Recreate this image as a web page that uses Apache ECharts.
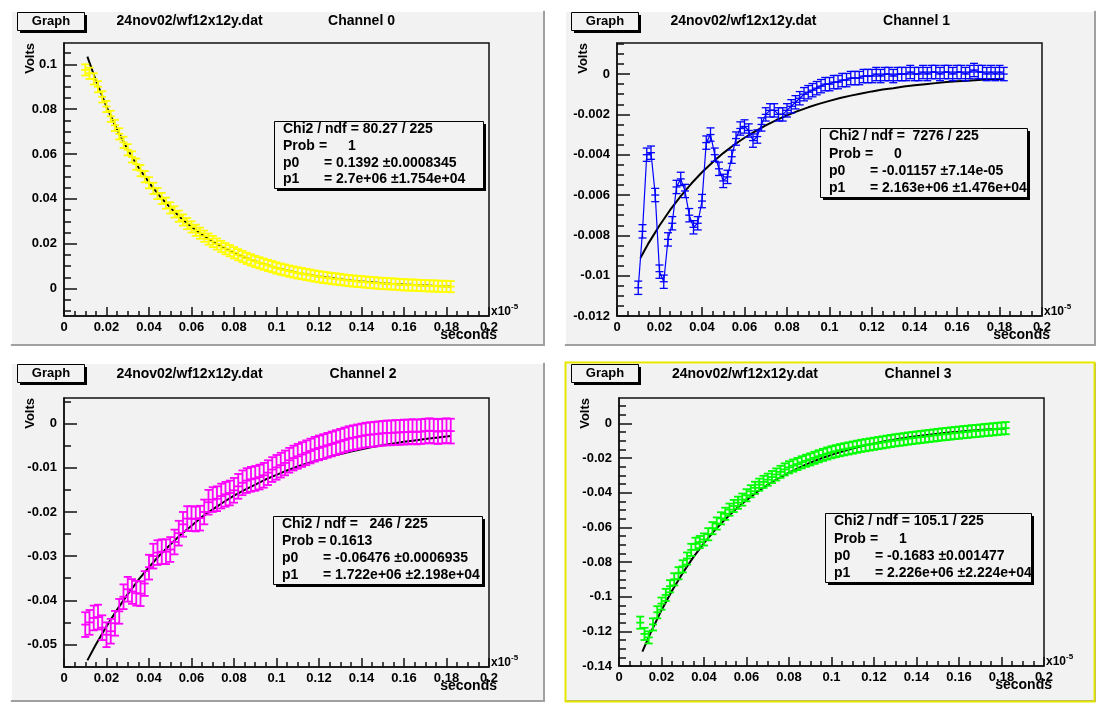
<!DOCTYPE html>
<html>
<head>
<meta charset="utf-8">
<title>24nov02/wf12x12y.dat</title>
<script src="https://cdn.jsdelivr.net/npm/echarts@6/dist/echarts.min.js"></script>
<style>
html, body { margin: 0; padding: 0; background: #fff; }
#main { width: 1096px; height: 705px; }
</style>
</head>
<body>
<div id="main"></div>
<script>
// sample positions, seconds x 1e-5
var xs = [0.010,0.012,0.014,0.016,0.018,0.020,0.022,0.024,0.026,0.028,0.030,0.032,0.034,0.036,0.038,0.040,0.042,0.044,0.046,0.048,
  0.050,0.052,0.054,0.056,0.058,0.060,0.062,0.064,0.066,0.068,0.070,0.072,0.074,0.076,0.078,0.080,0.082,0.084,0.086,0.088,
  0.090,0.092,0.094,0.096,0.098,0.100,0.102,0.104,0.106,0.108,0.110,0.112,0.114,0.116,0.118,0.120,0.122,0.124,0.126,0.128,
  0.130,0.132,0.134,0.136,0.138,0.140,0.142,0.144,0.146,0.148,0.150,0.152,0.154,0.156,0.158,0.160,0.162,0.164,0.166,0.168,
  0.170,0.172,0.174,0.176,0.178,0.180,0.182];

// measured volts, one array per channel
var ch0 = [0.0975,0.0960,0.0935,0.0900,0.0855,0.0812,0.0768,0.0728,0.0690,0.0652,0.0619,0.0587,0.0555,0.0526,0.0499,0.0472,0.0447,0.0424,0.0402,0.0381,
  0.0360,0.0342,0.0323,0.0306,0.0290,0.0275,0.0260,0.0247,0.0234,0.0221,0.0210,0.0199,0.0188,0.0178,0.0169,0.0160,0.0151,0.0143,0.0135,0.0128,
  0.0121,0.0115,0.0109,0.0103,0.0098,0.0092,0.0087,0.0083,0.0078,0.0074,0.0070,0.0067,0.0063,0.0060,0.0056,0.0053,0.0050,0.0048,0.0045,0.0043,
  0.0041,0.0038,0.0036,0.0034,0.0032,0.0031,0.0029,0.0027,0.0026,0.0024,0.0023,0.0022,0.0021,0.0020,0.0018,0.0017,0.0016,0.0016,0.0015,0.0014,
  0.0013,0.0012,0.0012,0.0011,0.0010,0.0010,0.0009];
var ch1 = [-0.0106,-0.0078,-0.0040,-0.0039,-0.0060,-0.0098,-0.0103,-0.0082,-0.0074,-0.0056,-0.0052,-0.0058,-0.0070,-0.0076,-0.0074,-0.0063,-0.0034,-0.0030,-0.0040,-0.0047,
  -0.0053,-0.0051,-0.0041,-0.0032,-0.0027,-0.0026,-0.0028,-0.0033,-0.0031,-0.0025,-0.0020,-0.0018,-0.0018,-0.0020,-0.0020,-0.0018,-0.0016,-0.0014,-0.0012,-0.0010,
  -0.0009,-0.0008,-0.0007,-0.0006,-0.0005,-0.0005,-0.0004,-0.0004,-0.0003,-0.0003,-0.0002,-0.0002,-0.0002,-0.0001,-0.0001,-0.0001,0.0000,-0.0001,0.0000,0.0000,
  -0.0001,0.0000,0.0000,0.0000,0.0001,0.0000,0.0000,0.0001,0.0000,0.0001,0.0001,0.0000,0.0001,0.0001,0.0000,0.0001,0.0001,0.0000,0.0001,0.0002,
  0.0001,0.0001,0.0000,0.0001,0.0000,0.0001,0.0000];
var ch2 = [-0.0455,-0.0450,-0.0440,-0.0438,-0.0462,-0.0478,-0.0470,-0.0452,-0.0425,-0.0392,-0.0375,-0.0380,-0.0384,-0.0385,-0.0362,-0.0325,-0.0300,-0.0292,-0.0290,-0.0290,
  -0.0285,-0.0268,-0.0248,-0.0228,-0.0215,-0.0215,-0.0216,-0.0214,-0.0200,-0.0178,-0.0172,-0.0170,-0.0164,-0.0160,-0.0157,-0.0151,-0.0142,-0.0134,-0.0129,-0.0126,
  -0.0124,-0.0121,-0.0117,-0.0111,-0.0104,-0.0099,-0.0094,-0.0089,-0.0083,-0.0078,-0.0074,-0.0070,-0.0066,-0.0062,-0.0058,-0.0055,-0.0052,-0.0049,-0.0046,-0.0043,
  -0.0040,-0.0037,-0.0034,-0.0032,-0.0030,-0.0028,-0.0026,-0.0025,-0.0024,-0.0023,-0.0022,-0.0021,-0.0021,-0.0020,-0.0020,-0.0019,-0.0019,-0.0018,-0.0019,-0.0018,
  -0.0017,-0.0016,-0.0017,-0.0018,-0.0017,-0.0016,-0.0017];
var ch3 = [-0.1150,-0.1215,-0.1235,-0.1160,-0.1090,-0.1040,-0.0990,-0.0940,-0.0900,-0.0865,-0.0825,-0.0780,-0.0730,-0.0695,-0.0685,-0.0670,-0.0640,-0.0605,-0.0578,-0.0548,
  -0.0522,-0.0498,-0.0477,-0.0458,-0.0440,-0.0415,-0.0392,-0.0372,-0.0354,-0.0338,-0.0325,-0.0310,-0.0295,-0.0280,-0.0266,-0.0254,-0.0244,-0.0235,-0.0225,-0.0216,
  -0.0208,-0.0199,-0.0190,-0.0182,-0.0174,-0.0167,-0.0161,-0.0155,-0.0150,-0.0145,-0.0140,-0.0135,-0.0130,-0.0126,-0.0122,-0.0118,-0.0114,-0.0110,-0.0106,-0.0102,
  -0.0098,-0.0095,-0.0092,-0.0088,-0.0085,-0.0082,-0.0079,-0.0076,-0.0073,-0.0070,-0.0067,-0.0064,-0.0062,-0.0059,-0.0056,-0.0054,-0.0051,-0.0049,-0.0046,-0.0044,
  -0.0042,-0.0039,-0.0037,-0.0035,-0.0032,-0.0030,-0.0028];

// fitted curves
var fitX = [0.011,0.015,0.020,0.025,0.030,0.035,0.040,0.045,0.050,0.055,0.060,0.065,0.070,0.075,0.080,0.085,0.090,0.095,0.100,0.105,
  0.110,0.115,0.120,0.125,0.130,0.135,0.140,0.145,0.150,0.155,0.160,0.165,0.170,0.175,0.180,0.182];
var fit0 = [0.1034,0.0928,0.0811,0.0709,0.0619,0.0541,0.0473,0.0413,0.0361,0.0315,0.0275,0.0241,0.0210,0.0184,0.0160,0.0140,0.0122,0.0107,0.0093,0.0082,
  0.0071,0.0062,0.0054,0.0048,0.0042,0.0036,0.0032,0.0028,0.0024,0.0021,0.0018,0.0016,0.0014,0.0012,0.0011,0.0010];
var fit1 = [-0.00912,-0.00836,-0.00751,-0.00674,-0.00605,-0.00543,-0.00487,-0.00437,-0.00392,-0.00352,-0.00316,-0.00284,-0.00255,-0.00228,-0.00205,-0.00184,-0.00165,-0.00148,-0.00133,-0.00119,
  -0.00107,-0.00096,-0.00086,-0.00077,-0.00070,-0.00062,-0.00056,-0.00050,-0.00045,-0.00040,-0.00036,-0.00033,-0.00029,-0.00026,-0.00024,-0.00023];
var fit2 = [-0.0536,-0.0500,-0.0459,-0.0421,-0.0386,-0.0354,-0.0325,-0.0298,-0.0274,-0.0251,-0.0231,-0.0211,-0.0194,-0.0178,-0.0163,-0.0150,-0.0138,-0.0126,-0.0116,-0.0106,
  -0.0097,-0.0089,-0.0082,-0.0075,-0.0069,-0.0063,-0.0058,-0.0053,-0.0049,-0.0045,-0.0041,-0.0038,-0.0035,-0.0032,-0.0029,-0.0028];
var fit3 = [-0.1317,-0.1205,-0.1078,-0.0965,-0.0863,-0.0772,-0.0691,-0.0618,-0.0553,-0.0495,-0.0443,-0.0396,-0.0354,-0.0317,-0.0284,-0.0254,-0.0227,-0.0203,-0.0182,-0.0163,
  -0.0145,-0.0130,-0.0116,-0.0104,-0.0093,-0.0083,-0.0075,-0.0067,-0.0060,-0.0053,-0.0048,-0.0043,-0.0038,-0.0034,-0.0031,-0.0029];

// tick labels
var xMajor = [0,0.02,0.04,0.06,0.08,0.1,0.12,0.14,0.16,0.18,0.2];
var yMajor0 = [0,0.02,0.04,0.06,0.08,0.1];
var yMajor1 = [-0.012,-0.01,-0.008,-0.006,-0.004,-0.002,0];
var yMajor2 = [-0.05,-0.04,-0.03,-0.02,-0.01,0];
var yMajor3 = [-0.14,-0.12,-0.1,-0.08,-0.06,-0.04,-0.02,0];

var FONT = '"Liberation Sans", Arial, Helvetica, sans-serif';
var PAD_BG = '#f2f2f2';

function steps(a, b, d) {
    var r = [];
    for (var v = a; v <= b + d / 2; v += d) r.push(+v.toFixed(6));
    return r;
}
function fmt(v) { return String(+v.toFixed(5)); }

var pads = [
    { rect: [10, 10, 535, 336], color: '#ffff00', data: ch0, fit: fit0, ey: 0.0025,
      ymin: -0.0122, ymax: 0.1095, yMajor: yMajor0, yMinor: steps(-0.01, 0.105, 0.005),
      grid: { left: 64, top: 43, width: 425, height: 273 }, gbox: [17, 12], t1: 189.6, t2: 361.5, ty: 21,
      channel: 'Channel 0', stats: { L: 274, T: 121, W: 209, H: 67, chi: 'Chi2 / ndf = 80.27 / 225', prob: '1',
      p0: '= 0.1392 \u00b10.0008345', p1: '= 2.7e+06 \u00b11.754e+04' } },
    { rect: [564, 10, 532, 336], color: '#0000ff', data: ch1, fit: fit1, ey: 0.00033, joined: true,
      ymin: -0.012, ymax: 0.00154, yMajor: yMajor1, yMinor: steps(-0.012, 0.0015, 0.0005),
      grid: { left: 617, top: 43, width: 425, height: 273 }, gbox: [571, 12], t1: 743.5, t2: 916.5, ty: 21,
      channel: 'Channel 1', stats: { L: 820, T: 128, W: 207, H: 69, chi: 'Chi2 / ndf =  7276 / 225', prob: '0',
      p0: '= -0.01157 \u00b17.14e-05', p1: '= 2.163e+06 \u00b11.476e+04' } },
    { rect: [10, 362, 535, 340], color: '#ff00ff', data: ch2, fit: fit2, ey: 0.0028,
      ymin: -0.0551, ymax: 0.0058, yMajor: yMajor2, yMinor: steps(-0.055, 0.005, 0.005),
      grid: { left: 64, top: 398, width: 425, height: 269 }, gbox: [17, 364], t1: 189.6, t2: 363, ty: 374,
      channel: 'Channel 2', stats: { L: 273, T: 516, W: 209, H: 68, chi: 'Chi2 / ndf =   246 / 225', prob: '0.1613',
      p0: '= -0.06476 \u00b10.0006935', p1: '= 1.722e+06 \u00b12.198e+04' } },
    { rect: [564, 362, 532, 340], color: '#00ff00', data: ch3, fit: fit3, ey: 0.0035, selected: true,
      ymin: -0.14, ymax: 0.0146, yMajor: yMajor3, yMinor: steps(-0.14, 0.01, 0.005),
      grid: { left: 619, top: 398, width: 425, height: 268 }, gbox: [571, 364], t1: 745, t2: 918, ty: 374,
      channel: 'Channel 3', stats: { L: 825, T: 513, W: 206, H: 69, chi: 'Chi2 / ndf = 105.1 / 225', prob: '1',
      p0: '= -0.1683 \u00b10.001477', p1: '= 2.226e+06 \u00b12.224e+04' } }
];

// vertical error bar with end caps and a "+" marker at the point
function errRender(ey, color, lw) {
    return function (params, api) {
        var x = api.value(0), y = api.value(1);
        var c = api.coord([x, y]);
        var px = c[0], py = c[1];
        var t = api.coord([x, y + ey])[1];
        var b = api.coord([x, y - ey])[1];
        var h = 4;
        var st = { stroke: color, lineWidth: lw };
        return {
            type: 'group',
            children: [
                { type: 'line', shape: { x1: px, y1: t, x2: px, y2: b }, style: st },
                { type: 'line', shape: { x1: px - h, y1: t, x2: px + h, y2: t }, style: st },
                { type: 'line', shape: { x1: px - h, y1: b, x2: px + h, y2: b }, style: st },
                { type: 'line', shape: { x1: px - h, y1: py, x2: px + h, y2: py }, style: st }
            ]
        };
    };
}

function txt(s, x, y, size, align, extra) {
    var e = {
        type: 'text', x: x, y: y, z: 50,
        style: { text: s, font: 'bold ' + size + 'px ' + FONT, fill: '#000',
                 align: align || 'left', verticalAlign: 'middle',
                 textAlign: align || 'left', textVerticalAlign: 'middle' }
    };
    if (extra) for (var k in extra) e[k] = extra[k];
    return e;
}

var grids = [], xAxes = [], yAxes = [], series = [], elements = [];

pads.forEach(function (p, i) {
    var g = p.grid;
    grids.push({ left: g.left, top: g.top, width: g.width, height: g.height, show: true,
                 borderColor: '#111', borderWidth: 1.5, backgroundColor: 'transparent' });

    var lab = { color: '#000', fontWeight: 'bold', fontSize: 13, fontFamily: FONT, formatter: fmt };
    var tickLine = { color: '#111', width: 1.5 };
    xAxes.push({ gridIndex: i, type: 'value', min: 0, max: 0.2, position: 'bottom',
        axisLine: { show: true, onZero: false, lineStyle: tickLine },
        axisTick: { show: true, inside: true, length: 9, customValues: xMajor, lineStyle: tickLine },
        axisLabel: Object.assign({ customValues: xMajor, margin: 5 }, lab),
        splitLine: { show: false } });
    xAxes.push({ gridIndex: i, type: 'value', min: 0, max: 0.2, position: 'bottom',
        axisLine: { show: false, onZero: false },
        axisTick: { show: true, inside: true, length: 5, customValues: steps(0, 0.2, 0.005), lineStyle: tickLine },
        axisLabel: { show: false }, splitLine: { show: false } });
    yAxes.push({ gridIndex: i, type: 'value', min: p.ymin, max: p.ymax, position: 'left',
        axisLine: { show: true, onZero: false, lineStyle: tickLine },
        axisTick: { show: true, inside: true, length: 13, customValues: p.yMajor, lineStyle: tickLine },
        axisLabel: Object.assign({ customValues: p.yMajor, margin: 7 }, lab),
        splitLine: { show: false } });
    yAxes.push({ gridIndex: i, type: 'value', min: p.ymin, max: p.ymax, position: 'left',
        axisLine: { show: false, onZero: false },
        axisTick: { show: true, inside: true, length: 7, customValues: p.yMinor, lineStyle: tickLine },
        axisLabel: { show: false }, splitLine: { show: false } });

    var pts = xs.map(function (x, k) { return [x, p.data[k]]; });

    // fit curve sits under the measured points
    series.push({
        type: 'line', xAxisIndex: 2 * i, yAxisIndex: 2 * i, z: 3,
        data: fitX.map(function (x, k) { return [x, p.fit[k]]; }),
        showSymbol: false, smooth: false,
        lineStyle: { color: '#000', width: 2 }
    });
    if (p.joined) {
        series.push({
            type: 'line', xAxisIndex: 2 * i, yAxisIndex: 2 * i, z: 4, data: pts,
            showSymbol: false, lineStyle: { color: p.color, width: 1.2 }
        });
    }
    series.push({
        type: 'custom', xAxisIndex: 2 * i, yAxisIndex: 2 * i, z: 5, clip: true,
        renderItem: errRender(p.ey, p.color, p.joined ? 1.3 : 1.8),
        encode: { x: 0, y: 1 },
        data: pts
    });

    // pad background and bevel
    var r = p.rect;
    elements.push({ type: 'rect', z: -10, shape: { x: r[0], y: r[1], width: r[2], height: r[3] },
                    style: { fill: PAD_BG } });
    elements.push({ type: 'polyline', z: -9, shape: { points: [[r[0] + 1, r[1] + r[3] - 1], [r[0] + r[2] - 1, r[1] + r[3] - 1], [r[0] + r[2] - 1, r[1] + 1]] },
                    style: { stroke: '#a0a0a0', lineWidth: 2, fill: null } });
    elements.push({ type: 'polyline', z: -9, shape: { points: [[r[0] + 1, r[1] + r[3] - 2], [r[0] + 1, r[1] + 1], [r[0] + r[2] - 2, r[1] + 1]] },
                    style: { stroke: '#ffffff', lineWidth: 2, fill: null } });
    if (p.selected) {
        elements.push({ type: 'rect', z: -8, shape: { x: r[0] + 1.5, y: r[1] + 0.5, width: r[2] - 3, height: r[3] - 1 },
                        style: { fill: null, stroke: '#e6e600', lineWidth: 2 } });
    }

    // title bar
    var gb = p.gbox;
    elements.push({ type: 'rect', z: 40, shape: { x: gb[0] + 3, y: gb[1] + 3, width: 67, height: 18 }, style: { fill: '#000' } });
    elements.push({ type: 'rect', z: 41, shape: { x: gb[0] + 0.5, y: gb[1] + 0.5, width: 67, height: 18 }, style: { fill: PAD_BG, stroke: '#000', lineWidth: 1 } });
    elements.push(txt('Graph', gb[0] + 34, gb[1] + 9, 13, 'center'));
    elements.push(txt('24nov02/wf12x12y.dat', p.t1, p.ty, 14, 'center'));
    elements.push(txt(p.channel, p.t2, p.ty, 14, 'center'));

    // axis titles
    elements.push(txt('Volts', g.left - 34, g.top, 13, 'right', { rotation: Math.PI / 2 }));
    var right = g.left + g.width, bottom = g.top + g.height;
    elements.push(txt('seconds', right + 8, bottom + 19, 14, 'right'));
    elements.push(txt('x10', right + 2, bottom - 4, 12, 'left'));
    elements.push(txt('-5', right + 22, bottom - 9, 8, 'left'));

    // fit statistics box
    var s = p.stats;
    elements.push({ type: 'rect', z: 60, shape: { x: s.L + 3, y: s.T + 3, width: s.W, height: s.H }, style: { fill: '#000' } });
    elements.push({ type: 'rect', z: 61, shape: { x: s.L + 0.5, y: s.T + 0.5, width: s.W, height: s.H }, style: { fill: PAD_BG, stroke: '#000', lineWidth: 1 } });
    var ly = function (k) { return s.T + s.H * (k + 0.5) / 4; };
    var rows = [
        txt(s.chi, s.L + 9, ly(0), 14, 'left'),
        txt('Prob', s.L + 9, ly(1), 14, 'left'),
        txt('=', s.L + 45, ly(1), 14, 'left'),
        txt(s.prob, s.L + 78, ly(1), 14, 'center'),
        txt('p0', s.L + 9, ly(2), 14, 'left'),
        txt(s.p0, s.L + 50, ly(2), 14, 'left'),
        txt('p1', s.L + 9, ly(3), 14, 'left'),
        txt(s.p1, s.L + 50, ly(3), 14, 'left')
    ];
    rows.forEach(function (e) { e.z = 62; elements.push(e); });
});

var chartDom = document.getElementById('main');
var myChart = echarts.init(chartDom);
var option = {
    animation: false,
    backgroundColor: '#ffffff',
    grid: grids,
    xAxis: xAxes,
    yAxis: yAxes,
    series: series,
    graphic: { elements: elements }
};
option && myChart.setOption(option);
window.addEventListener('resize', function () {
    myChart.resize();
});
</script>
</body>
</html>
